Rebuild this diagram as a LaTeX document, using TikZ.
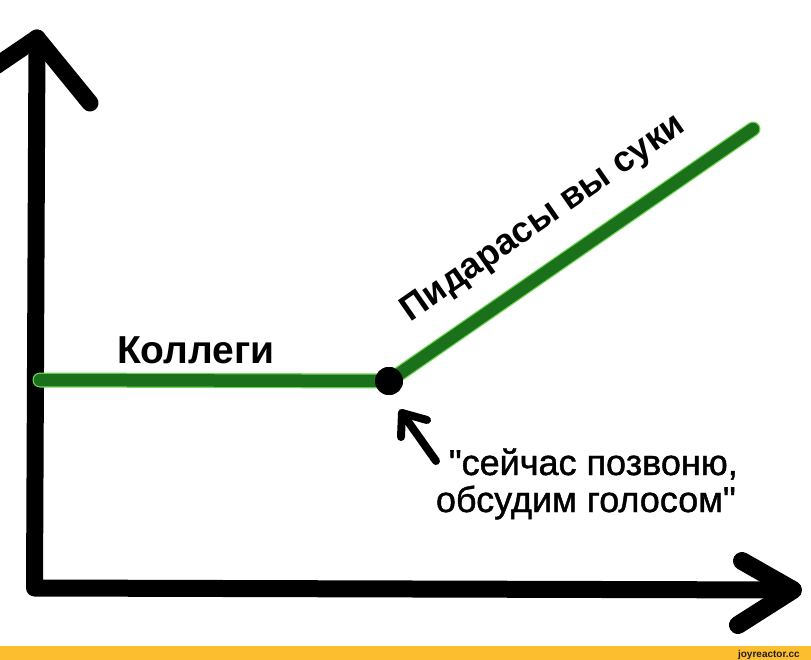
\documentclass[tikz,border=0pt]{standalone}
\usepackage{fontspec}
\setmainfont{Liberation Sans}
\newfontfamily\quotefont[FakeBold=1.2]{Liberation Sans}
\definecolor{lgreen}{RGB}{27,112,28}
\definecolor{glowgreen}{RGB}{110,215,80}
\definecolor{wmyellow}{RGB}{252,190,46}
\definecolor{wmtext}{RGB}{30,30,30}
\begin{document}
\begin{tikzpicture}[x=1pt,y=-1pt,
  axis/.style={line width=17pt, line cap=round, line join=round, black},
  glowline/.style={line width=15pt, line cap=round, line join=round, glowgreen},
  greenline/.style={line width=12.5pt, line cap=round, line join=round, lgreen},
  smallarrow/.style={line width=8pt, line cap=round, line join=round, black},
  bigtext/.style={font=\fontsize{39}{40}\selectfont\bfseries, inner sep=0pt},
  slanttext/.style={font=\fontsize{36}{40}\selectfont\bfseries, inner sep=0pt},
  quotetext/.style={font=\fontsize{36}{40}\selectfont\quotefont, inner sep=0pt},
  wm/.style={font=\fontsize{10}{12}\selectfont\bfseries, text=wmtext, inner sep=0pt}]
\useasboundingbox (0,0) rectangle (811,660);
\fill[white] (0,0) rectangle (811,660);
\fill[wmyellow] (0,646) rectangle (811,660);
% axes
\coordinate (ytop) at (37,38);
\coordinate (origin) at (34.5,588);
\coordinate (xtip) at (793,590);
\coordinate (yl) at (-10,70);
\coordinate (yr) at (90,103);
\coordinate (xu) at (742,561);
\coordinate (xd) at (738,625);
\draw[axis] (ytop) -- (origin) -- (xtip);
\draw[axis] (yl) -- (ytop) -- (yr);
\draw[axis, line width=18pt] (xu) -- (xtip) -- (xd);
% green curve
\node[circle, fill=black, minimum size=28pt, inner sep=0pt] (dot) at (389,381) {};
\coordinate (gstart) at (40,380);
\coordinate (gend) at (753,129);
\draw[glowline] (gstart) -- (dot.center) -- (gend);
\draw[greenline] (gstart) -- (dot.center) -- (gend);
\node[circle, fill=black, minimum size=28pt, inner sep=0pt] at (dot) {};
% small arrow
\coordinate (satip) at (402,413);
\coordinate (satail) at (436,461);
\coordinate (sal) at (401,437);
\coordinate (sar) at (427,420);
\draw[smallarrow] (satail) -- (satip);
\draw[smallarrow] (sal) -- (satip) -- (sar);
% texts
\node[bigtext, anchor=base west] (kol) at (117,363) {Коллеги};
\node[slanttext, rotate=34.8] (pid) at (544,219) {Пидарасы вы суки};
\node[quotetext, anchor=base east] (q1) at (738,475) {\textquotedbl сейчас позвоню,};
\node[quotetext, anchor=base east] (q2) at (736,512) {обсудим голосом\textquotedbl};
\node[wm, anchor=base east] (wmk) at (800,657) {joyreactor.cc};
\end{tikzpicture}
\end{document}
